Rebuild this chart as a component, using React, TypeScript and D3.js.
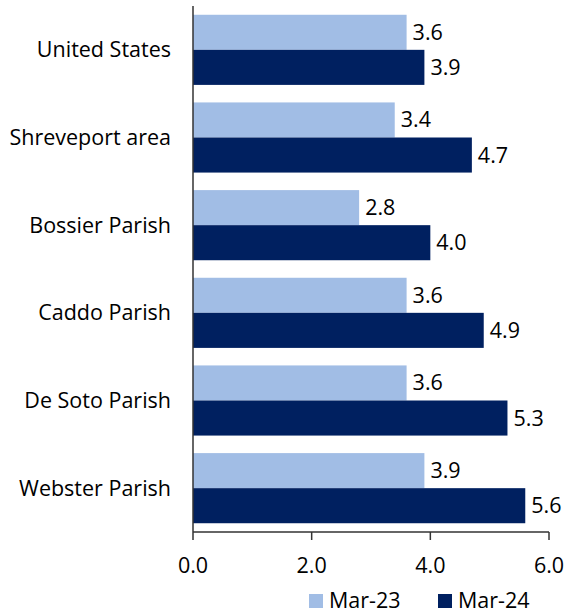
import React from "react";
import * as d3 from "d3";

const categories = ["United States", "Shreveport area", "Bossier Parish", "Caddo Parish", "De Soto Parish", "Webster Parish"];
const seriesNames = ["Mar-23", "Mar-24"];
const mar23 = [3.6, 3.4, 2.8, 3.6, 3.6, 3.9];
const mar24 = [3.9, 4.7, 4.0, 4.9, 5.3, 5.6];
const xTicks = [0, 2, 4, 6];
const colors = ["#A1BDE5", "#002060"];

const W = 576, H = 613;
const left = 193, right = 549, top = 6, bottom = 532;
const FONT = "'Open Sans', sans-serif";

export default function App() {
  const x = d3.scaleLinear().domain([0, 6]).range([left, right]);
  const y = d3.scaleBand().domain(categories).range([top, bottom]).paddingInner(0.2).paddingOuter(0.1);
  const sub = d3.scaleBand().domain(seriesNames).range([0, y.bandwidth()]);
  const series = [mar23, mar24];
  const fs = 21.5;
  return (
    <svg width={W} height={H} style={{ position: "absolute", left: 0, top: 0, background: "#fff" }}>
      {categories.map((c, i) => (
        <g key={c}>
          {series.map((s, k) => {
            const yy = (y(c) as number) + (sub(seriesNames[k]) as number);
            return (
              <g key={k}>
                <rect x={x(0)} y={yy} width={x(s[i]) - x(0)} height={sub.bandwidth()} fill={colors[k]} />
                <text x={x(s[i]) + 6} y={yy + sub.bandwidth() / 2} dy="0.35em" fontFamily={FONT} fontSize={fs} fill="#000">
                  {s[i].toFixed(1)}
                </text>
              </g>
            );
          })}
          <text x={171} y={(y(c) as number) + y.bandwidth() / 2} dy="0.35em" textAnchor="end" fontFamily={FONT} fontSize={fs} fill="#000">
            {c}
          </text>
        </g>
      ))}
      <line x1={x(0)} x2={x(0)} y1={top} y2={bottom} stroke="#333" strokeWidth={1.5} />
      <line x1={x(0)} x2={x(6)} y1={bottom} y2={bottom} stroke="#333" strokeWidth={1.5} />
      {xTicks.map((t) => (
        <g key={t}>
          <line x1={x(t)} x2={x(t)} y1={bottom} y2={bottom + 8} stroke="#333" strokeWidth={1.5} />
          <text x={x(t)} y={565} dy="0.35em" textAnchor="middle" fontFamily={FONT} fontSize={fs} fill="#000">
            {t.toFixed(1)}
          </text>
        </g>
      ))}
      {seriesNames.map((n, k) => {
        const lx = [309, 438][k];
        return (
          <g key={n}>
            <rect x={lx} y={594} width={14} height={14} fill={colors[k]} />
            <text x={lx + 20} y={600} dy="0.35em" fontFamily={FONT} fontSize={fs} fill="#000">{n}</text>
          </g>
        );
      })}
    </svg>
  );
}
